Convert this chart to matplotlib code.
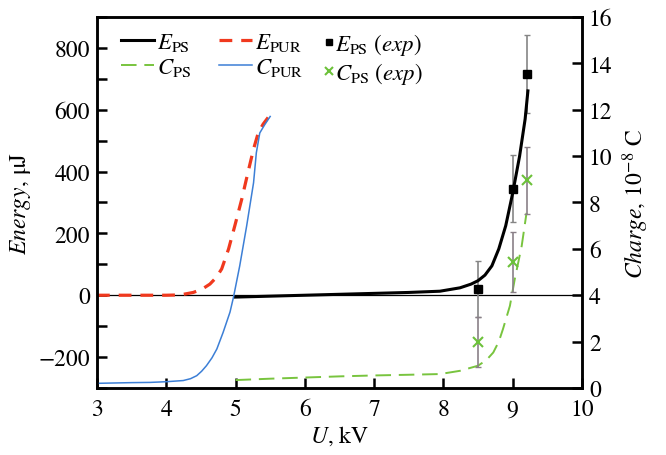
import matplotlib
matplotlib.use("Agg")
import matplotlib.pyplot as plt
from matplotlib.ticker import MultipleLocator
from matplotlib.legend_handler import HandlerLine2D

plt.rcParams['font.family'] = ['STIXGeneral', 'DejaVu Sans']
plt.rcParams['mathtext.fontset'] = 'stix'

# E_PS model (left axis, µJ)
u_eps = [5.0, 5.5, 6.0, 6.5, 7.0, 7.5, 7.95, 8.24, 8.4, 8.5, 8.6, 8.7, 8.8, 8.9, 9.0, 9.1, 9.18, 9.22]
e_ps = [-6, -3, 0, 3, 6, 9, 13, 24, 36, 47, 65, 95, 150, 225, 330, 450, 570, 661]

# E_PUR model (left axis, µJ)
u_epur = [3.0, 3.5, 4.0, 4.2, 4.39, 4.52, 4.63, 4.72, 4.80, 4.90, 4.99, 5.09, 5.18, 5.26, 5.33, 5.40, 5.47]
e_pur = [0, 0, 0, 1, 9, 20, 36, 57, 85, 150, 225, 311, 398, 473, 527, 554, 575]

# C_PS model (right axis, 1e-8 C)
u_cps = [5.0, 5.5, 6.0, 6.5, 7.0, 7.5, 7.95, 8.24, 8.5, 8.62, 8.72, 8.8, 8.86, 8.96, 9.03, 9.13, 9.2]
c_ps = [0.34, 0.40, 0.45, 0.50, 0.54, 0.57, 0.60, 0.74, 0.96, 1.2, 1.53, 2.0, 2.54, 3.54, 4.69, 6.12, 7.55]

# C_PUR model (right axis, 1e-8 C)
u_cpur = [3.0, 3.5, 3.77, 4.0, 4.245, 4.35, 4.44, 4.51, 4.58, 4.66, 4.73, 4.82, 4.92, 4.97, 5.06, 5.16, 5.26, 5.30, 5.35, 5.42, 5.5]
c_pur = [0.2, 0.23, 0.24, 0.27, 0.32, 0.40, 0.53, 0.72, 0.96, 1.3, 1.68, 2.39, 3.27, 3.91, 5.26, 6.98, 8.85, 10.14, 11.0, 11.35, 11.71]

# experiments
u_exp = [8.5, 9.0, 9.2]
e_exp = [20, 345, 716]
e_err = [90, 108, 126]
c_exp = [1.98, 5.42, 8.95]
c_err = [1.07, 1.29, 1.43]


class MarkerNearText(HandlerLine2D):
    def get_xdata(self, legend, xdescent, ydescent, width, height, fontsize):
        end = width - xdescent - 1.5
        return [end - 3.0, end], [end - 1.5]


fig = plt.figure(figsize=(6.66, 4.56), dpi=100)
ax = fig.add_axes([0.1456, 0.147, 0.7282, 0.8135])
ax2 = ax.twinx()

ax.set_xlim(3, 10)
ax.set_ylim(-300, 900)
ax2.set_ylim(0, 16)

ax.axhline(0, color='black', lw=0.9, zorder=1)

l_epur, = ax.plot(u_epur, e_pur, color='#f0391e', lw=2.3, dashes=(4, 2.8), label=r'$E_{\rm PUR}$')
l_eps, = ax.plot(u_eps, e_ps, color='black', lw=2.2, label=r'$E_{\rm PS}$', zorder=4)
ax.errorbar(u_exp, e_exp, yerr=e_err, fmt='none', ecolor='#858585', elinewidth=1.2,
            capsize=2.5, capthick=1.0, zorder=3)
m_eexp, = ax.plot(u_exp, e_exp, 's', color='black', ms=6, ls='none', zorder=5,
                  label=r'$E_{\rm PS}$ ($\mathit{exp}$)')

l_cpur, = ax2.plot(u_cpur, c_pur, color='#3c7fd6', lw=1.1, label=r'$C_{\rm PUR}$')
l_cps, = ax2.plot(u_cps, c_ps, color='#78c43e', lw=1.4, dashes=(8, 4), label=r'$C_{\rm PS}$')
ax2.errorbar(u_exp, c_exp, yerr=c_err, fmt='none', ecolor='#8a8088', elinewidth=1.2,
             capsize=2.5, capthick=1.0, zorder=3)
m_cexp, = ax2.plot(u_exp, c_exp, 'x', color='#6cc13a', ms=7, mew=1.5, ls='none', zorder=5,
                   label=r'$C_{\rm PS}$ ($\mathit{exp}$)')

# ticks
ax.xaxis.set_major_locator(MultipleLocator(1))
ax.yaxis.set_major_locator(MultipleLocator(200))
ax.yaxis.set_minor_locator(MultipleLocator(100))
ax2.yaxis.set_major_locator(MultipleLocator(2))
for a in (ax, ax2):
    a.tick_params(which='both', direction='in', length=7, width=1.8, labelsize=17)
    for s in a.spines.values():
        s.set_linewidth(1.8)
ax.tick_params(axis='y', which='both', left=True, right=False)
ax.tick_params(axis='x', top=False, pad=8)
ax2.tick_params(axis='y', which='both', left=False, right=True, pad=5)
ax.tick_params(axis='y', pad=5)

ax.set_xlabel(r'$\mathit{U}$, kV', fontsize=17, labelpad=2)
ax.set_ylabel(r'$\mathit{Energy}$, μJ', fontsize=17, labelpad=4)
ax2.set_ylabel(r'$\mathit{Charge}$, 10$^{-8}$ C', fontsize=17, labelpad=6)

leg_kw = dict(frameon=False, fontsize=16.5, labelspacing=0.12, borderpad=0.0, borderaxespad=0.0)
leg1 = ax2.legend(handles=[l_eps, l_cps, l_epur, l_cpur], ncol=2, loc='upper left',
                  bbox_to_anchor=(0.049, 0.962), handlelength=1.44, handletextpad=0.15,
                  columnspacing=1.2, **leg_kw)
ax2.add_artist(leg1)
leg2 = ax2.legend(handles=[m_eexp, m_cexp], ncol=1, loc='upper left',
                  bbox_to_anchor=(0.458, 0.962), handlelength=0.6, handletextpad=0.1,
                  markerscale=0.75,
                  handler_map={m_eexp: MarkerNearText(), m_cexp: MarkerNearText()}, **leg_kw)

fig.savefig('out.png', dpi=100)
